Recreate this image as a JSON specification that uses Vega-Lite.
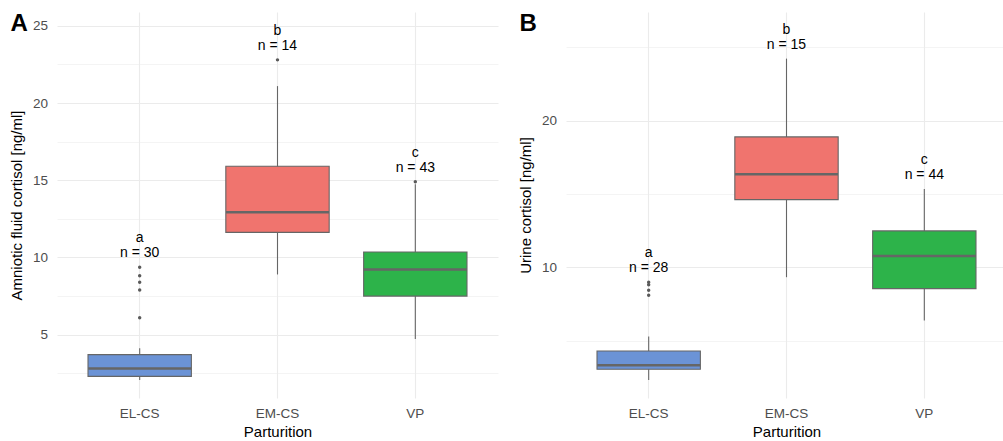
{
  "$schema": "https://vega.github.io/schema/vega-lite/v6.json",
  "background": "white",
  "padding": {"left": 9, "top": 12, "right": 0, "bottom": 0},
  "autosize": {"type": "pad"},
  "bounds": "flush",
  "spacing": 68,
  "config": {
    "font": "Liberation Sans",
    "view": {"stroke": null},
    "axis": {
      "gridColor": "#EBEBEB",
      "domain": false,
      "ticks": false,
      "tickSize": 0,
      "labelFont": "Liberation Sans",
      "titleFont": "Liberation Sans",
      "labelColor": "#4D4D4D",
      "labelFontSize": 13.5,
      "titleFontSize": 15,
      "titleFontWeight": "normal",
      "titleColor": "#000000",
      "labelOverlap": false
    },
    "axisX": {"labelPadding": 8.5, "titlePadding": 4.5, "labelAngle": 0, "gridWidth": 1.1},
    "axisY": {"labelPadding": 9.5, "titlePadding": 7.5}
  },
  "datasets": {
    "boxes": [
      {"panel": "A", "group": "EL-CS", "min": 2.07, "q1": 2.3, "median": 2.81, "q3": 3.71, "max": 4.12, "top": 9.37, "letter": "a", "nlabel": "n = 30"},
      {"panel": "A", "group": "EM-CS", "min": 8.9, "q1": 11.63, "median": 12.93, "q3": 15.91, "max": 21.1, "top": 22.8, "letter": "b", "nlabel": "n = 14"},
      {"panel": "A", "group": "VP", "min": 4.72, "q1": 7.5, "median": 9.22, "q3": 10.36, "max": 14.75, "top": 14.9, "letter": "c", "nlabel": "n = 43"},
      {"panel": "B", "group": "EL-CS", "min": 2.31, "q1": 3.04, "median": 3.31, "q3": 4.29, "max": 5.27, "top": 8.98, "letter": "a", "nlabel": "n = 28"},
      {"panel": "B", "group": "EM-CS", "min": 9.32, "q1": 14.61, "median": 16.34, "q3": 18.89, "max": 24.23, "top": 24.23, "letter": "b", "nlabel": "n = 15"},
      {"panel": "B", "group": "VP", "min": 6.36, "q1": 8.54, "median": 10.77, "q3": 12.48, "max": 15.33, "top": 15.33, "letter": "c", "nlabel": "n = 44"}
    ],
    "outliers": [
      {"panel": "A", "group": "EL-CS", "value": 6.1},
      {"panel": "A", "group": "EL-CS", "value": 7.9},
      {"panel": "A", "group": "EL-CS", "value": 8.39},
      {"panel": "A", "group": "EL-CS", "value": 8.82},
      {"panel": "A", "group": "EL-CS", "value": 9.37},
      {"panel": "A", "group": "EM-CS", "value": 22.8},
      {"panel": "A", "group": "VP", "value": 14.9},
      {"panel": "B", "group": "EL-CS", "value": 8.09},
      {"panel": "B", "group": "EL-CS", "value": 8.43},
      {"panel": "B", "group": "EL-CS", "value": 8.8},
      {"panel": "B", "group": "EL-CS", "value": 8.98}
    ]
  },
  "hconcat": [
    {
      "width": 441,
      "height": 386,
      "title": {"text": "A", "anchor": "start", "frame": "group", "orient": "top", "offset": -20, "dx": -46.5, "dy": 23, "align": "left", "baseline": "alphabetic", "fontSize": 24, "fontWeight": "bold", "font": "Liberation Sans", "color": "#000000"},
      "encoding": {
        "x": {"field": "group", "type": "nominal", "title": "Parturition",
              "scale": {"domain": ["EL-CS", "EM-CS", "VP"], "paddingInner": 0.25, "paddingOuter": 0.225},
              "axis": {"grid": true, "bandPosition": 0.5}}
      },
      "layer": [
        {
          "data": {"name": "boxes"},
          "transform": [{"filter": "datum.panel === 'A'"}],
          "mark": {"type": "rule", "color": "#666666", "strokeWidth": 1.1},
          "encoding": {
            "y": {"field": "min", "type": "quantitative", "title": "Amniotic fluid cortisol [ng/ml]",
                  "scale": {"domain": [0.9, 25.9], "nice": false, "zero": false},
                  "axis": {"values": [2.5, 5, 7.5, 10, 12.5, 15, 17.5, 20, 22.5, 25],
                           "labelExpr": "datum.value % 5 === 0 ? datum.label : ''",
                           "gridWidth": {"condition": {"test": "datum.value % 5 === 0", "value": 1.1}, "value": 0.55}}},
            "y2": {"field": "max"}
          }
        },
        {
          "data": {"name": "boxes"},
          "transform": [{"filter": "datum.panel === 'A'"}],
          "mark": {"type": "bar", "stroke": "#666666", "strokeWidth": 1.1, "opacity": 1},
          "encoding": {
            "y": {"field": "q1", "type": "quantitative", "title": "Amniotic fluid cortisol [ng/ml]"},
            "y2": {"field": "q3"},
            "color": {"field": "group", "type": "nominal", "legend": null,
                      "scale": {"domain": ["EL-CS", "EM-CS", "VP"], "range": ["#6B93D6", "#F0746E", "#2DB34A"]}}
          }
        },
        {
          "data": {"name": "boxes"},
          "transform": [{"filter": "datum.panel === 'A'"}],
          "mark": {"type": "tick", "orient": "horizontal", "color": "#666666", "thickness": 2.6, "size": 103, "opacity": 1},
          "encoding": {
            "y": {"field": "median", "type": "quantitative", "title": "Amniotic fluid cortisol [ng/ml]"}
          }
        },
        {
          "data": {"name": "outliers"},
          "transform": [{"filter": "datum.panel === 'A'"}],
          "mark": {"type": "circle", "color": "#5A5A5A", "size": 12, "opacity": 1},
          "encoding": {
            "y": {"field": "value", "type": "quantitative", "title": "Amniotic fluid cortisol [ng/ml]"}
          }
        },
        {
          "data": {"name": "boxes"},
          "transform": [{"filter": "datum.panel === 'A'"}],
          "mark": {"type": "text", "dy": -29, "fontSize": 14, "baseline": "middle", "color": "#000000"},
          "encoding": {
            "y": {"field": "top", "type": "quantitative", "title": "Amniotic fluid cortisol [ng/ml]"},
            "text": {"field": "letter"}
          }
        },
        {
          "data": {"name": "boxes"},
          "transform": [{"filter": "datum.panel === 'A'"}],
          "mark": {"type": "text", "dy": -14, "fontSize": 14, "baseline": "middle", "color": "#000000"},
          "encoding": {
            "y": {"field": "top", "type": "quantitative", "title": "Amniotic fluid cortisol [ng/ml]"},
            "text": {"field": "nlabel"}
          }
        }
      ]
    },
    {
      "width": 441,
      "height": 386,
      "title": {"text": "B", "anchor": "start", "frame": "group", "orient": "top", "offset": -20, "dx": -46.5, "dy": 23, "align": "left", "baseline": "alphabetic", "fontSize": 24, "fontWeight": "bold", "font": "Liberation Sans", "color": "#000000"},
      "encoding": {
        "x": {"field": "group", "type": "nominal", "title": "Parturition",
              "scale": {"domain": ["EL-CS", "EM-CS", "VP"], "paddingInner": 0.25, "paddingOuter": 0.225},
              "axis": {"grid": true, "bandPosition": 0.5}}
      },
      "layer": [
        {
          "data": {"name": "boxes"},
          "transform": [{"filter": "datum.panel === 'B'"}],
          "mark": {"type": "rule", "color": "#666666", "strokeWidth": 1.1},
          "encoding": {
            "y": {"field": "min", "type": "quantitative", "title": "Urine cortisol [ng/ml]",
                  "scale": {"domain": [1.08, 27.41], "nice": false, "zero": false},
                  "axis": {"values": [5, 10, 15, 20, 25],
                           "labelExpr": "datum.value % 10 === 0 ? datum.label : ''",
                           "gridWidth": {"condition": {"test": "datum.value % 10 === 0", "value": 1.1}, "value": 0.55}}},
            "y2": {"field": "max"}
          }
        },
        {
          "data": {"name": "boxes"},
          "transform": [{"filter": "datum.panel === 'B'"}],
          "mark": {"type": "bar", "stroke": "#666666", "strokeWidth": 1.1, "opacity": 1},
          "encoding": {
            "y": {"field": "q1", "type": "quantitative", "title": "Urine cortisol [ng/ml]"},
            "y2": {"field": "q3"},
            "color": {"field": "group", "type": "nominal", "legend": null,
                      "scale": {"domain": ["EL-CS", "EM-CS", "VP"], "range": ["#6B93D6", "#F0746E", "#2DB34A"]}}
          }
        },
        {
          "data": {"name": "boxes"},
          "transform": [{"filter": "datum.panel === 'B'"}],
          "mark": {"type": "tick", "orient": "horizontal", "color": "#666666", "thickness": 2.6, "size": 103, "opacity": 1},
          "encoding": {
            "y": {"field": "median", "type": "quantitative", "title": "Urine cortisol [ng/ml]"}
          }
        },
        {
          "data": {"name": "outliers"},
          "transform": [{"filter": "datum.panel === 'B'"}],
          "mark": {"type": "circle", "color": "#5A5A5A", "size": 12, "opacity": 1},
          "encoding": {
            "y": {"field": "value", "type": "quantitative", "title": "Urine cortisol [ng/ml]"}
          }
        },
        {
          "data": {"name": "boxes"},
          "transform": [{"filter": "datum.panel === 'B'"}],
          "mark": {"type": "text", "dy": -29, "fontSize": 14, "baseline": "middle", "color": "#000000"},
          "encoding": {
            "y": {"field": "top", "type": "quantitative", "title": "Urine cortisol [ng/ml]"},
            "text": {"field": "letter"}
          }
        },
        {
          "data": {"name": "boxes"},
          "transform": [{"filter": "datum.panel === 'B'"}],
          "mark": {"type": "text", "dy": -14, "fontSize": 14, "baseline": "middle", "color": "#000000"},
          "encoding": {
            "y": {"field": "top", "type": "quantitative", "title": "Urine cortisol [ng/ml]"},
            "text": {"field": "nlabel"}
          }
        }
      ]
    }
  ]
}
